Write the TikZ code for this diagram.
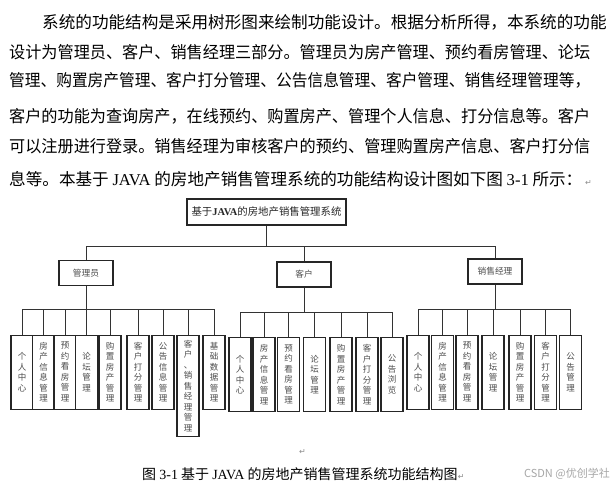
\documentclass[tikz,border=0pt]{standalone}
\usepackage{fontspec}
\usepackage{graphicx}
\setmainfont{Noto Sans CJK SC}
\newfontfamily\latin{Liberation Serif}
\newfontfamily\sym{DejaVu Sans}

\newcommand{\fitline}[1]{\resizebox{581pt}{\height}{#1}}
\newcommand{\retmark}{{\sym\fontsize{8}{8}\selectfont\textcolor{black!45}{↵}}}

\tikzset{
  box/.style={draw=black!85, line width=1.1pt, fill=white, text=black!70},
  head/.style={box, minimum width=54pt, minimum height=25pt, inner sep=1pt,
    font=\fontsize{8.7}{9}\selectfont},
  leaf/.style={box, anchor=north, minimum width=22pt, minimum height=74pt,
    inner xsep=0pt, inner ysep=5pt, align=center,
    font=\fontsize{8.5}{10.5}\selectfont},
  link/.style={draw=black!80, line width=0.9pt},
  para/.style={anchor=base west, inner sep=0pt, font=\fontsize{16.6}{20}\selectfont},
}

\begin{document}
\begin{tikzpicture}[x=1pt, y=-1pt]
\useasboundingbox (0,0) rectangle (615,494);

% text above the figure
\node[para] (p1) at (42,29) {系统的功能结构是采用树形图来绘制功能设计。根据分析所得，本系统的功能};
\node[para] (p2) at (9,59) {\fitline{设计为管理员、客户、销售经理三部分。管理员为房产管理、预约看房管理、论坛}};
\node[para] (p3) at (9,87) {\fitline{管理、购置房产管理、客户打分管理、公告信息管理、客户管理、销售经理管理等，}};
\node[para] (p4) at (9,123) {\fitline{客户的功能为查询房产，在线预约、购置房产、管理个人信息、打分信息等。客户}};
\node[para] (p5) at (9,153) {\fitline{可以注册进行登录。销售经理为审核客户的预约、管理购置房产信息、客户打分信}};
\node[para] (p6) at (9,186) {息等。本基于 {\latin JAVA} 的房地产销售管理系统的功能结构设计图如下图 {\latin 3-1} 所示：};
\node[anchor=base west, inner sep=0pt] (r1) at (585,186) {\retmark};

% top levels
\node[box, minimum width=159pt, minimum height=26pt, inner sep=1pt, text=black!85,
  font=\fontsize{10.4}{11}\selectfont] (root) at (266.5,212)
  {基于{\latin\bfseries JAVA}的房地产销售管理系统};
\node[head] (adm) at (86,273) {管理员};
\node[head] (cus) at (304,274.5) {客户};
\node[head] (mgr) at (495,271.5) {销售经理};

\coordinate (tbus) at (0,246);
\draw[link] (root.south) -- (root.south |- tbus);
\draw[link] (adm.north) |- (mgr.north |- tbus) -- (mgr.north);
\draw[link] (cus.north) -- (cus.north |- tbus);

% admin leaves
\foreach \i/\x/\lbl in {1/22/个\\人\\中\\心, 2/43.5/房\\产\\信\\息\\管\\理,
    3/65/预\\约\\看\\房\\管\\理, 4/86.5/论\\坛\\管\\理, 5/110/购\\置\\房\\产\\管\\理,
    6/138/客\\户\\打\\分\\管\\理, 7/163/公\\告\\信\\息\\管\\理,
    8/188/客\\户\\、\\销\\售\\经\\理\\管\\理, 9/214/基\\础\\数\\据\\管\\理}
  \node[leaf] (a\i) at (\x,334.5) {\lbl};
\coordinate (abus) at (0,309);
\foreach \i in {1,...,9}
  \draw[link] (a\i.north) -- (a\i.north |- abus);
\draw[link] (a1.north |- abus) -- (a9.north |- abus);
\draw[link] (adm.south) -- (adm.south |- abus);

% customer leaves
\foreach \i/\x/\lbl in {1/240/个\\人\\中\\心, 2/264/房\\产\\信\\息\\管\\理,
    3/288.5/预\\约\\看\\房\\管\\理, 4/314.5/论\\坛\\管\\理, 5/341/购\\置\\房\\产\\管\\理,
    6/367/客\\户\\打\\分\\管\\理, 7/392/公\\告\\浏\\览}
  \node[leaf] (c\i) at (\x,337) {\lbl};
\coordinate (cbus) at (0,312);
\foreach \i in {1,...,7}
  \draw[link] (c\i.north) -- (c\i.north |- cbus);
\draw[link] (c1.north |- cbus) -- (c7.north |- cbus);
\draw[link] (cus.south) -- (cus.south |- cbus);

% sales manager leaves
\foreach \i/\x/\lbl in {1/418/个\\人\\中\\心, 2/442.5/房\\产\\信\\息\\管\\理,
    3/467/预\\约\\看\\房\\管\\理, 4/493/论\\坛\\管\\理, 5/520/购\\置\\房\\产\\管\\理,
    6/545.5/客\\户\\打\\分\\管\\理, 7/570.5/公\\告\\管\\理}
  \node[leaf] (s\i) at (\x,334.5) {\lbl};
\coordinate (sbus) at (0,309);
\foreach \i in {1,...,7}
  \draw[link] (s\i.north) -- (s\i.north |- sbus);
\draw[link] (s1.north |- sbus) -- (s7.north |- sbus);
\draw[link] (mgr.south) -- (mgr.south |- sbus);

% caption
\node[anchor=base west, inner sep=0pt] (r2) at (299,454) {\retmark};
\node[anchor=base west, inner sep=0pt, font=\fontsize{14}{16}\selectfont] (cap) at (142,479)
  {图 {\latin 3-1} 基于 {\latin JAVA} 的房地产销售管理系统功能结构图};
\node[anchor=base west, inner sep=0pt] (r3) at (cap.base east) {\retmark};
\node[anchor=base east, inner sep=0pt, text=black!35, font=\fontsize{11}{12}\selectfont] (wm)
  at (610,477) {CSDN @优创学社};
\end{tikzpicture}
\end{document}
